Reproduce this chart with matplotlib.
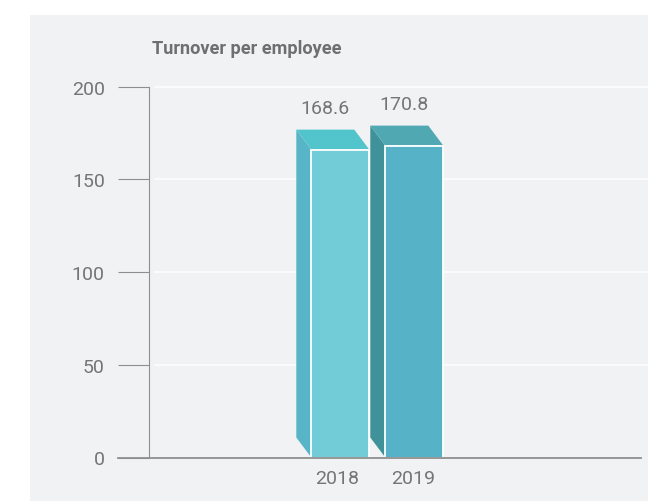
import matplotlib
matplotlib.use("Agg")
import matplotlib.pyplot as plt
from matplotlib.patches import Polygon, Rectangle

# data
years = ["2018", "2019"]
turnover = [168.6, 170.8]
y_ticks = [0, 50, 100, 150, 200]

# colours per bar
front_cols = ["#72CCD7", "#56B2C7"]
top_cols = ["#52C4CC", "#50A8B3"]
side_cols = ["#58B5C8", "#3F9299"]
text_col = "#757575"
line_col = "#8f8f8f"
panel_col = "#F1F2F4"

W, H = 648, 502
plt.rcParams["font.family"] = ["Roboto", "DejaVu Sans"]
fig = plt.figure(figsize=(W / 100, H / 100), dpi=100, facecolor="white")

# grey panel behind the chart
fig.add_artist(Rectangle((30 / W, 0), (W - 30) / W, (H - 16) / H,
                         transform=fig.transFigure, fc=panel_col, ec="none", zorder=-5))

# plot area in pixels
left, right, bottom, top = 149, 641, 458.5, 87.8
box = [left / W, 1 - bottom / H, (right - left) / W, (bottom - top) / H]
ax = fig.add_axes(box)
ax.patch.set_alpha(0)

step = 74.0  # pixels between the two bars
xlims = (-(340.3 - left) / step, (right - 340.3) / step)
ax.set_xlim(*xlims)
ax.set_ylim(0, 200)

# bars get their own axes on top, with a slightly longer value range
ax_b = fig.add_axes(box, sharex=ax)
ax_b.patch.set_alpha(0)
ax_b.axis("off")
ax_b.set_ylim(0, 203)
py = (bottom - top) / 203

# fake 3d depth, given in axis units
dx = 15 / step
dy = 20 / py
bar_w = 58 / step

# white gridlines, running past the axes to the panel edge
trans = ax.get_yaxis_transform()
for t in y_ticks[1:]:
    ax.plot([(155 - left) / (right - left), (W - left) / (right - left)], [t, t],
            transform=trans, color="white", lw=1.1, clip_on=False, zorder=1)

for i, v in enumerate(turnover):
    x0 = i - bar_w / 2
    x1 = i + bar_w / 2
    # side face
    ax_b.add_patch(Polygon([(x0, 0), (x0 - dx, dy), (x0 - dx, v + dy), (x0, v)],
                           fc=side_cols[i], ec="none", zorder=2))
    # top face
    ax_b.add_patch(Polygon([(x0, v), (x0 - dx, v + dy), (x1 - dx, v + dy), (x1, v)],
                           fc=top_cols[i], ec="none", zorder=2))
    # front face
    ax_b.bar(i, v, width=bar_w, color=front_cols[i], edgecolor="white", linewidth=1.3, zorder=3)

# value labels sit above the back edge of each bar
label_shift = [-15 / step, -10 / step]
for i, v in enumerate(turnover):
    ax_b.text(i + label_shift[i], v + dy + 9.0, f"{v:.1f}", ha="center", va="baseline",
              color=text_col, fontsize=14)

# axes
for s in ["top", "right", "bottom"]:
    ax.spines[s].set_visible(False)
ax.spines["left"].set_color(line_col)
ax.spines["left"].set_linewidth(0.8)
ax.set_yticks(y_ticks)
ax.tick_params(axis="y", length=31 * 0.72, width=0.8, color=line_col, pad=9.5,
               labelcolor=text_col, labelsize=14)

# year labels sit a little left of the bar centres
year_pos = [-3.5 / step, 1 - 1.5 / step]
ax.set_xticks(year_pos)
ax.set_xticklabels(years)
ax.tick_params(axis="x", length=0, pad=8, labelcolor=text_col, labelsize=14)
ax.set_xlim(*xlims)

# baseline reaches out to the left end of the ticks
ax_b.plot([(118 - left) / (right - left), 1], [0, 0], transform=ax_b.get_yaxis_transform(),
          color=line_col, lw=1.3, clip_on=False, zorder=4)

fig.text(152 / W, 1 - 49.5 / H, "Turnover per employee", fontsize=13.1, fontweight="bold",
         color="#6f6f6f", va="center", ha="left")

fig.savefig("out.png", dpi=100, facecolor="white")
